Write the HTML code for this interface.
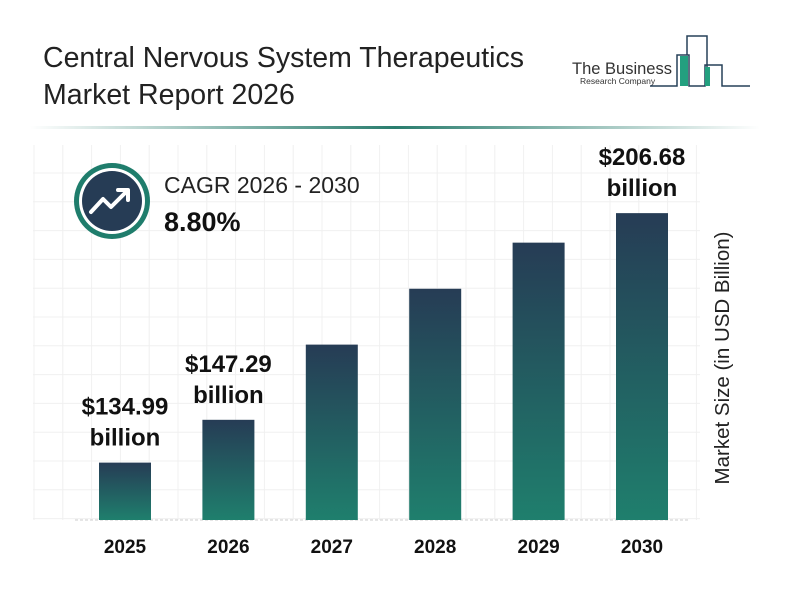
<!DOCTYPE html>
<html><head><meta charset="utf-8"><style>
body{margin:0;width:800px;height:600px;background:#fff;overflow:hidden;font-family:"Liberation Sans",Arial,sans-serif}
</style></head><body>
<svg width="800" height="600" viewBox="0 0 800 600">
<defs>
<linearGradient id="bg" x1="0" y1="0" x2="0" y2="1"><stop offset="0" stop-color="#263c55"/><stop offset="1" stop-color="#1f7f6d"/></linearGradient>
<linearGradient id="ln" x1="0" y1="0" x2="1" y2="0"><stop offset="0" stop-color="#fff"/><stop offset="0.5" stop-color="#2a7d6e"/><stop offset="1" stop-color="#fff"/></linearGradient>
</defs>
<g id="grid"></g>
<text x="43" y="67" font-size="28.5" fill="#222">Central Nervous System Therapeutics</text>
<text x="43" y="104" font-size="28.5" fill="#222">Market Report 2026</text>
<rect x="30" y="126" width="730" height="3" fill="url(#ln)"/>
<g>
<text x="572" y="74" font-size="16.5" fill="#333">The Business</text>
<text x="580" y="84" font-size="8.5" fill="#333">Research Company</text>
<polyline points="650,86 677,86 677,55 689,55 689,86 705,86 705,65 722,65 722,86 750,86" fill="none" stroke="#264058" stroke-width="1.5"/>
<polyline points="687,55 687,36 707,36 707,86" fill="none" stroke="#264058" stroke-width="1.5"/>
<rect x="680" y="56" width="8" height="30" fill="#23a07f"/>
<rect x="705" y="67" width="5" height="19" fill="#23a07f"/>
</g>
<g>
<circle cx="112" cy="201" r="38" fill="#1f7d6c"/>
<circle cx="112" cy="201" r="33" fill="#fff"/>
<circle cx="112" cy="201" r="30" fill="#263c55"/>
<polyline points="91,212 103,199 111,207 127,191" fill="none" stroke="#fff" stroke-width="4" stroke-linejoin="round" stroke-linecap="round"/>
<polyline points="118,190 128,190 128,200" fill="none" stroke="#fff" stroke-width="4" stroke-linejoin="round" stroke-linecap="round"/>
<text x="164" y="193" font-size="23" fill="#222">CAGR 2026 - 2030</text>
<text x="164" y="231" font-size="27" font-weight="bold" fill="#111">8.80%</text>
</g>
<line x1="75" y1="520" x2="690" y2="520" stroke="#ccc" stroke-dasharray="3,2"/>
<g id="bars"></g>
<text transform="translate(729,358) rotate(-90)" text-anchor="middle" font-size="20.5" fill="#222">Market Size (in USD Billion)</text>
</svg>
<script>
const categories=["2025","2026","2027","2028","2029","2030"];
const values=[134.99,147.29,168.9,184.95,198.2,206.68];
const labels=["$134.99","$147.29","","","","$206.68"];
const NS="http://www.w3.org/2000/svg";
const base=520, v0=118.5, k=3.48;
function y(v){return base-(v-v0)*k;}
function x(i){return 99+i*103.4;}
const grid=document.getElementById('grid');
for(let gy=173;gy<=520;gy+=28.8){const l=document.createElementNS(NS,'line');l.setAttribute('x1',33);l.setAttribute('x2',700);l.setAttribute('y1',gy);l.setAttribute('y2',gy);l.setAttribute('stroke','#f0f0f0');


grid.appendChild(l);}
for(let gx=34;gx<=700;gx+=28.8){const l=document.createElementNS(NS,'line');l.setAttribute('x1',gx);l.setAttribute('x2',gx);l.setAttribute('y1',145);l.setAttribute('y2',520);l.setAttribute('stroke','#f0f0f0');


grid.appendChild(l);}
const g=document.getElementById('bars');
values.forEach((v,i)=>{
 const bx=x(i), top=y(v);
 const r=document.createElementNS(NS,'rect');
 r.setAttribute('x',bx);r.setAttribute('y',top);r.setAttribute('width',52);r.setAttribute('height',base-top);r.setAttribute('fill','url(#bg)');
 
 
 g.appendChild(r);
 const t=document.createElementNS(NS,'text');
 t.setAttribute('x',bx+26);t.setAttribute('y',553);t.setAttribute('text-anchor','middle');t.setAttribute('font-size','19');t.setAttribute('font-weight','bold');t.setAttribute('fill','#111');t.textContent=categories[i];
 
 
 g.appendChild(t);
 if(labels[i]){
  const a=document.createElementNS(NS,'text');
  a.setAttribute('x',bx+26);a.setAttribute('y',top-48);a.setAttribute('text-anchor','middle');a.setAttribute('font-size','24');a.setAttribute('font-weight','bold');a.setAttribute('fill','#111');a.textContent=labels[i];
  
  
  g.appendChild(a);
  const b=document.createElementNS(NS,'text');
  b.setAttribute('x',bx+26);b.setAttribute('y',top-17);b.setAttribute('text-anchor','middle');b.setAttribute('font-size','24');b.setAttribute('font-weight','bold');b.setAttribute('fill','#111');b.textContent='billion';
  
  
  g.appendChild(b);
 }
});
</script>
</body></html>
